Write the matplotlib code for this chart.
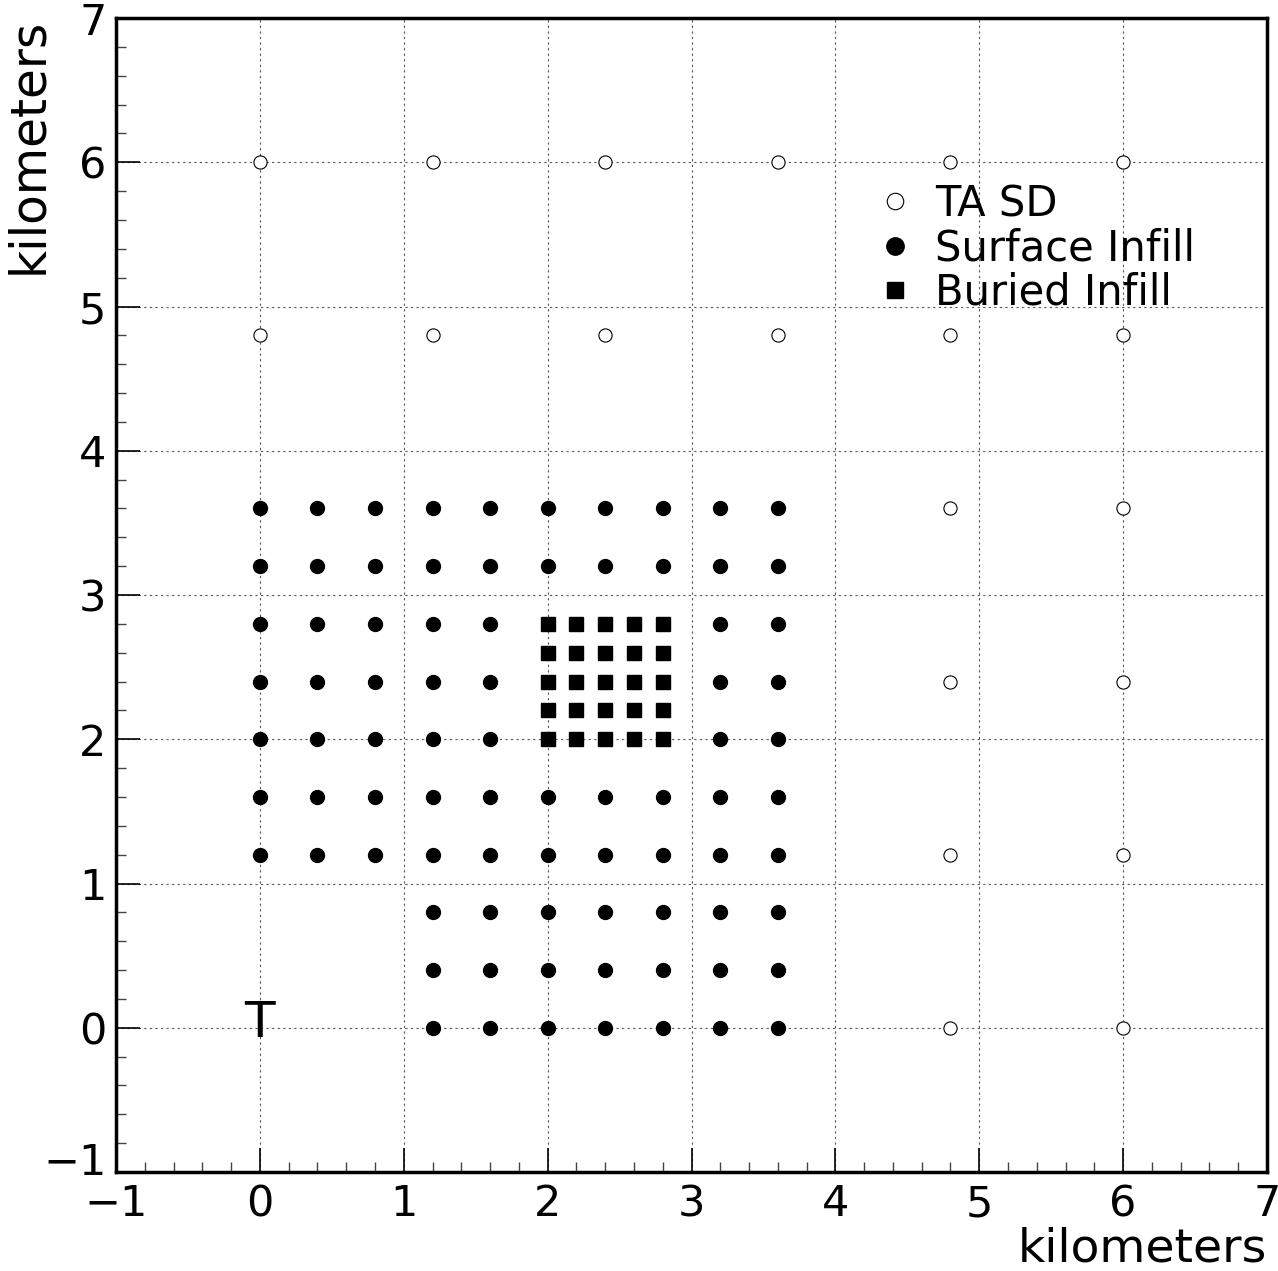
import matplotlib
matplotlib.use("Agg")
import matplotlib.pyplot as plt
import matplotlib.transforms as mtransforms
from matplotlib.ticker import MultipleLocator

# TA SD detectors (open circles)
ta_x = [0, 1.2, 2.4, 3.6, 4.8, 6.0, 0, 1.2, 2.4, 3.6, 4.8, 6.0,
        4.8, 6.0, 4.8, 6.0, 4.8, 6.0, 4.8, 6.0]
ta_y = [6.0, 6.0, 6.0, 6.0, 6.0, 6.0, 4.8, 4.8, 4.8, 4.8, 4.8, 4.8,
        3.6, 3.6, 2.4, 2.4, 1.2, 1.2, 0.0, 0.0]

# surface infill (filled circles), listed row by row
surf_rows = {
    3.6: [0, 0.4, 0.8, 1.2, 1.6, 2.0, 2.4, 2.8, 3.2, 3.6],
    3.2: [0, 0.4, 0.8, 1.2, 1.6, 2.0, 2.4, 2.8, 3.2, 3.6],
    2.8: [0, 0.4, 0.8, 1.2, 1.6, 3.2, 3.6],
    2.4: [0, 0.4, 0.8, 1.2, 1.6, 3.2, 3.6],
    2.0: [0, 0.4, 0.8, 1.2, 1.6, 3.2, 3.6],
    1.6: [0, 0.4, 0.8, 1.2, 1.6, 2.0, 2.4, 2.8, 3.2, 3.6],
    1.2: [0, 0.4, 0.8, 1.2, 1.6, 2.0, 2.4, 2.8, 3.2, 3.6],
    0.8: [1.2, 1.6, 2.0, 2.4, 2.8, 3.2, 3.6],
    0.4: [1.2, 1.6, 2.0, 2.4, 2.8, 3.2, 3.6],
    0.0: [1.2, 1.6, 2.0, 2.4, 2.8, 3.2, 3.6],
}

# buried infill (squares)
bur_x_vals = [2.0, 2.2, 2.4, 2.6, 2.8]
bur_y_vals = [2.0, 2.2, 2.4, 2.6, 2.8]

tick_vals = list(range(-1, 8))

surf_x = [x for y, xs in surf_rows.items() for x in xs]
surf_y = [y for y, xs in surf_rows.items() for x in xs]
bur_x = [x for y in bur_y_vals for x in bur_x_vals]
bur_y = [y for y in bur_y_vals for x in bur_x_vals]

plt.rcParams['font.family'] = ['DejaVu Sans']

fig = plt.figure(figsize=(12.78, 12.71), dpi=100)
ax = fig.add_axes([0.0908, 0.0779, 0.9006, 0.9079])

ax.plot(ta_x, ta_y, 'o', mfc='white', mec='black', mew=0.8, ms=9.5,
        ls='none', label='TA SD', zorder=3)
ax.plot(surf_x, surf_y, 'o', color='black', ms=10, ls='none',
        label='Surface Infill', zorder=3)
ax.plot(bur_x, bur_y, 's', color='black', ms=9.5, ls='none',
        label='Buried Infill', zorder=3)

# station marker at the origin
ax.text(0, 0.03, 'T', fontsize=36, ha='center', va='center', zorder=4)

ax.set_xlim(-1, 7)
ax.set_ylim(-1, 7)
ax.xaxis.set_minor_locator(MultipleLocator(0.2))
ax.yaxis.set_minor_locator(MultipleLocator(0.2))
ax.tick_params(which='major', direction='in', length=17, width=1.2,
               labelsize=31, color='black')
ax.tick_params(which='minor', direction='in', length=7, width=1.0,
               color='#444444')
ax.tick_params(axis='x', pad=8)
ax.tick_params(axis='y', pad=7)
ax.set_xticks(tick_vals)
ax.set_xticklabels([str(v).replace('-', '\u2212') for v in tick_vals])
ax.set_yticks(tick_vals)
ax.set_yticklabels([str(v).replace('-', '\u2212') for v in tick_vals])

# lift the lowest y label a little so it clears the x label
lbl = ax.get_yticklabels()[0]
lbl.set_transform(lbl.get_transform() +
                  mtransforms.ScaledTranslation(0, 10 / 72, fig.dpi_scale_trans))

ax.grid(True, which='major', linestyle=(0, (2, 3)), color='#555555', lw=0.8)
ax.set_axisbelow(True)

for spine in ax.spines.values():
    spine.set_linewidth(2.5)

ax.set_xlabel('kilometers', fontsize=34, loc='right', labelpad=1)
fig.text(28 / 1278, 1 - 18 / 1271, 'kilometers', fontsize=35,
         rotation=90, ha='center', va='top')

leg = ax.legend(loc='upper left', bbox_to_anchor=(0.659, 0.857), frameon=False,
                fontsize=30, handletextpad=0.45, labelspacing=0.05,
                handlelength=1.0, borderaxespad=0, borderpad=0,
                markerscale=1.25)

fig.savefig('out.png', dpi=100)
